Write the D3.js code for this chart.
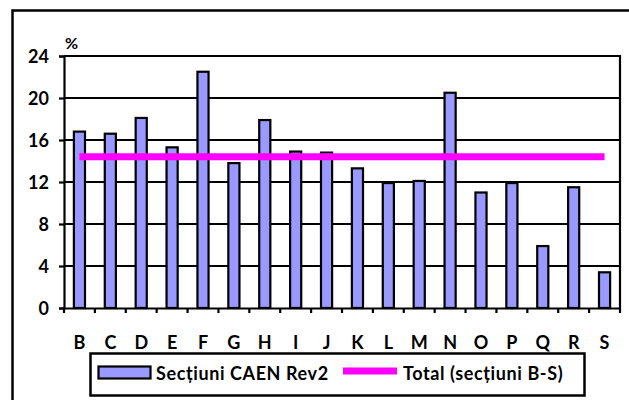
<!DOCTYPE html>
<html><head><meta charset="utf-8">
<script src="https://cdn.jsdelivr.net/npm/d3@7"></script>
<style>body{margin:0;background:#fff}svg{display:block;font-family:Lato,"Open Sans",sans-serif;font-weight:bold}</style>
</head><body>
<svg id="c" width="629" height="400"></svg>
<script>
const categories = ["B","C","D","E","F","G","H","I","J","K","L","M","N","O","P","Q","R","S"];
const sectionValues = [16.8,16.6,18.1,15.3,22.5,13.8,17.9,14.9,14.8,13.3,11.9,12.1,20.5,11.0,11.9,5.9,11.5,3.4];
const totalValue = 14.4;
const yTicks = [0,4,8,12,16,20,24];
const seriesNames = ["Secțiuni CAEN Rev2","Total (secțiuni B-S)"];

const svg = d3.select("#c");
const L=64,R=620,T=56,B=308;
svg.append("rect").attr("x",12.5).attr("y",10.5).attr("width",640).attr("height",420)
  .attr("fill","#fff").attr("stroke","#000").attr("stroke-width",2.5);

const x = d3.scaleBand().domain(categories).range([L,R]).paddingInner(0.64).paddingOuter(0.32);
const xb = d3.scaleBand().domain(categories).range([L,R]);
const y = d3.scaleLinear().domain([0,24]).range([B,T]);

// gridlines
svg.append("g").selectAll("line").data(yTicks.filter(d=>d>0)).join("line")
  .attr("x1",L).attr("x2",R).attr("y1",d=>y(d)).attr("y2",d=>y(d))
  .attr("stroke","#000").attr("stroke-width",2.2);
svg.append("line").attr("x1",R).attr("x2",R).attr("y1",T-1).attr("y2",B).attr("stroke","#000").attr("stroke-width",2.2);

// bars
svg.append("g").selectAll("rect").data(sectionValues).join("rect")
  .attr("x",(d,i)=>x(categories[i])).attr("width",x.bandwidth())
  .attr("y",d=>y(d)).attr("height",d=>y(0)-y(d))
  .attr("fill","#9999FF").attr("stroke","#000").attr("stroke-width",2.2);

// total line
svg.append("line")
  .attr("x1",xb(categories[0])+xb.bandwidth()/2)
  .attr("x2",xb(categories[categories.length-1])+xb.bandwidth()/2)
  .attr("y1",y(totalValue)).attr("y2",y(totalValue))
  .attr("stroke","#FF00FF").attr("stroke-width",7);

// y axis
const ya = svg.append("g").attr("transform",`translate(${L},0)`)
  .call(d3.axisLeft(y).tickValues(yTicks).tickSize(5).tickPadding(10));
ya.select(".domain").attr("stroke-width",2.2);
ya.selectAll(".tick line").attr("stroke-width",2.2);
ya.selectAll("text").attr("font-size",18).attr("font-family","Lato").attr("font-weight","bold").attr("fill","#000").attr("dy","0.36em");

// x axis
const xa = svg.append("g").attr("transform",`translate(0,${B})`)
  .call(d3.axisBottom(xb).tickSize(0).tickPadding(0));
xa.select(".domain").attr("stroke-width",2.2);
xa.selectAll("text").attr("font-size",18).attr("font-family","Lato").attr("font-weight","bold").attr("fill","#000")
  .attr("y",41).attr("dy",0);
svg.append("g").selectAll("line").data(categories.concat(["_end"])).join("line")
  .attr("x1",(d,i)=>L+i*xb.step()).attr("x2",(d,i)=>L+i*xb.step())
  .attr("y1",B).attr("y2",B+5).attr("stroke","#000").attr("stroke-width",2.2);

svg.append("text").attr("x",65).attr("y",49).attr("font-size",16).text("%");

// legend
const lg = svg.append("g");
lg.append("rect").attr("x",90.5).attr("y",353.5).attr("width",494).attr("height",42)
  .attr("fill","#fff").attr("stroke","#000").attr("stroke-width",2.5);
lg.append("rect").attr("x",98.5).attr("y",366.5).attr("width",52).attr("height",12)
  .attr("fill","#9999FF").attr("stroke","#000").attr("stroke-width",2.2);
lg.append("text").attr("x",156).attr("y",380).attr("font-size",18)
  .attr("letter-spacing",0.6).text(seriesNames[0]);
lg.append("line").attr("x1",343).attr("x2",397).attr("y1",371).attr("y2",371)
  .attr("stroke","#FF00FF").attr("stroke-width",7);
lg.append("text").attr("x",403).attr("y",380).attr("font-size",18)
  .attr("letter-spacing",0.6).text(seriesNames[1]);
</script>
</body></html>
